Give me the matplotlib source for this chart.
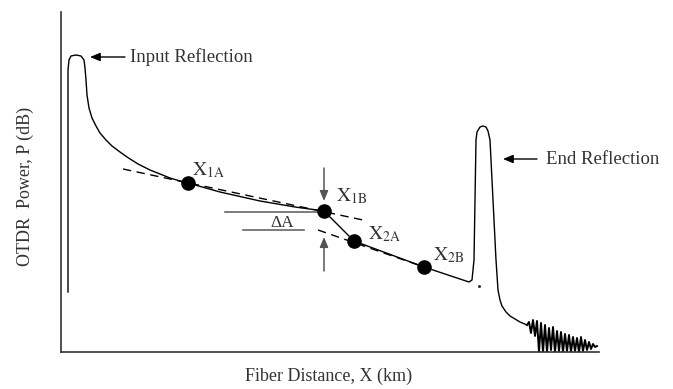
import matplotlib
matplotlib.use("Agg")
import matplotlib.pyplot as plt

plt.rcParams['font.family'] = ['Liberation Serif', 'DejaVu Serif']
plt.rcParams['mathtext.fontset'] = 'stix'

# OTDR trace (x: distance units, y: power units)
trace_x = [0.7, 0.7, 0.8, 1.0, 1.5, 2.0, 2.3, 2.4, 2.5, 2.6, 2.8, 3.1, 3.5, 3.9, 4.5, 5.1,
           5.9, 6.6, 7.7, 8.9, 9.9, 10.9, 11.9, 12.7, 15.9, 19.9, 23.4, 26.3, 29.3, 36.3,
           40.8, 41.1, 41.3, 41.5, 41.6, 41.9, 42.2, 42.5, 42.7, 42.9, 43.5, 43.7, 43.9,
           44.1, 44.5, 44.9, 45.4, 45.9, 46.6]
trace_y = [6.0, 28.2, 29.2, 29.6, 29.7, 29.6, 29.2, 28.4, 27.2, 25.7, 24.4, 23.4, 22.6, 21.9,
           21.2, 20.6, 20.0, 19.5, 18.8, 18.2, 17.8, 17.4, 17.1, 16.9, 16.0, 15.1, 14.5,
           14.1, 11.1, 8.5, 7.0, 7.2, 9.2, 21.2, 22.0, 22.5, 22.6, 22.5, 22.1, 21.2, 9.2,
           6.2, 5.2, 4.6, 4.0, 3.6, 3.3, 3.0, 2.7]

noise_x = [46.6, 46.8, 47.0, 47.2, 47.4, 47.6, 47.8, 48.0, 48.2, 48.4, 48.6, 48.8, 49.0,
           49.2, 49.4, 49.6, 49.8, 50.0, 50.2, 50.4, 50.6, 50.8, 51.0, 51.2, 51.4, 51.6,
           51.8, 52.0, 52.2, 52.4, 52.6, 52.8, 53.0, 53.2, 53.4, 53.6]
noise_y = [2.7, 3.0, 1.9, 3.2, 1.6, 3.1, 0.0, 2.9, 0.0, 2.7, 0.0, 2.4, 0.2, 2.5, 0.0, 2.1,
           0.1, 2.0, 0.0, 1.8, 0.1, 1.7, 0.0, 1.5, 0.1, 1.4, 0.0, 1.5, 0.1, 1.2, 0.2, 1.0,
           0.3, 0.8, 0.5, 0.6]

# event points
pt_labels = ['X_{1A}', 'X_{1B}', 'X_{2A}', 'X_{2B}']
pt_x = [12.7, 26.3, 29.3, 36.3]
pt_y = [16.9, 14.1, 11.1, 8.5]
lbl_x = [13.1, 27.5, 30.7, 37.2]
lbl_y = [18.2, 15.6, 11.8, 9.7]

# fitted (dashed) lines
fit1_x = [6.2, 30.2]
fit1_y = [18.3, 13.2]
fit2_x = [25.7, 36.3]
fit2_y = [12.2, 8.5]

fig = plt.figure(figsize=(6.73, 3.89), dpi=100)
ax = fig.add_axes([61/673, 37/389, 538/673, 340/389])
ax.set_xlim(0, 53.8)
ax.set_ylim(0, 34)
for s in ['top', 'right']:
    ax.spines[s].set_visible(False)
for s in ['left', 'bottom']:
    ax.spines[s].set_color('#333333')
    ax.spines[s].set_linewidth(1.2)
ax.set_xticks([])
ax.set_yticks([])

ax.plot(trace_x, trace_y, color='black', lw=1.0, solid_joinstyle='round')
ax.plot(noise_x, noise_y, color='black', lw=1.4)
ax.plot([41.8], [6.6], 'o', color='#333333', ms=1.2)

ax.plot(fit1_x, fit1_y, color='black', lw=1.0, dashes=(6, 4))
ax.plot(fit2_x, fit2_y, color='black', lw=1.0, dashes=(6, 4))

ax.plot(pt_x, pt_y, 'o', color='black', ms=9.5, zorder=5)
for lab, x, y in zip(pt_labels, lbl_x, lbl_y):
    ax.text(x, y, r'$\mathrm{' + lab + '}$', fontsize=14, color='#333333',
            ha='left', va='center')

# delta A construction
gray = '#666666'
ax.plot([16.4, 25.9], [14.03, 14.03], color=gray, lw=1.2)
ax.plot([18.2, 24.3], [12.2, 12.2], color=gray, lw=1.2)
ax.text(22.1, 12.95, 'ΔA', fontsize=12.5, color='#333333', ha='center', va='center')
ax.annotate('', xy=(26.3, 15.1), xytext=(26.3, 18.4),
            arrowprops=dict(arrowstyle='-|>,head_length=0.6,head_width=0.25',
                            color='#555555', lw=1.1, shrinkA=0, shrinkB=0))
ax.annotate('', xy=(26.3, 11.5), xytext=(26.3, 8.1),
            arrowprops=dict(arrowstyle='-|>,head_length=0.6,head_width=0.25',
                            color='#555555', lw=1.1, shrinkA=0, shrinkB=0))

# reflection annotations
ax.annotate('', xy=(2.9, 29.5), xytext=(6.4, 29.5),
            arrowprops=dict(arrowstyle='-|>,head_length=0.6,head_width=0.25',
                            color='black', lw=1.0, shrinkA=0, shrinkB=0))
ax.text(6.9, 29.5, 'Input Reflection', fontsize=13.5, color='#333333', ha='left', va='center')
ax.annotate('', xy=(44.2, 19.3), xytext=(47.6, 19.3),
            arrowprops=dict(arrowstyle='-|>,head_length=0.6,head_width=0.25',
                            color='black', lw=1.0, shrinkA=0, shrinkB=0))
ax.text(48.5, 19.3, 'End Reflection', fontsize=13.5, color='#333333', ha='left', va='center')

fig.text(329/673, 1 - 376/389, 'Fiber Distance, X (km)', fontsize=13, color='#333333',
         ha='center', va='center')
fig.text(25/673, 1 - 186/389, 'OTDR  Power, P (dB)', fontsize=13, color='#333333',
         ha='center', va='center', rotation=90)

fig.savefig('out.png', dpi=100)
